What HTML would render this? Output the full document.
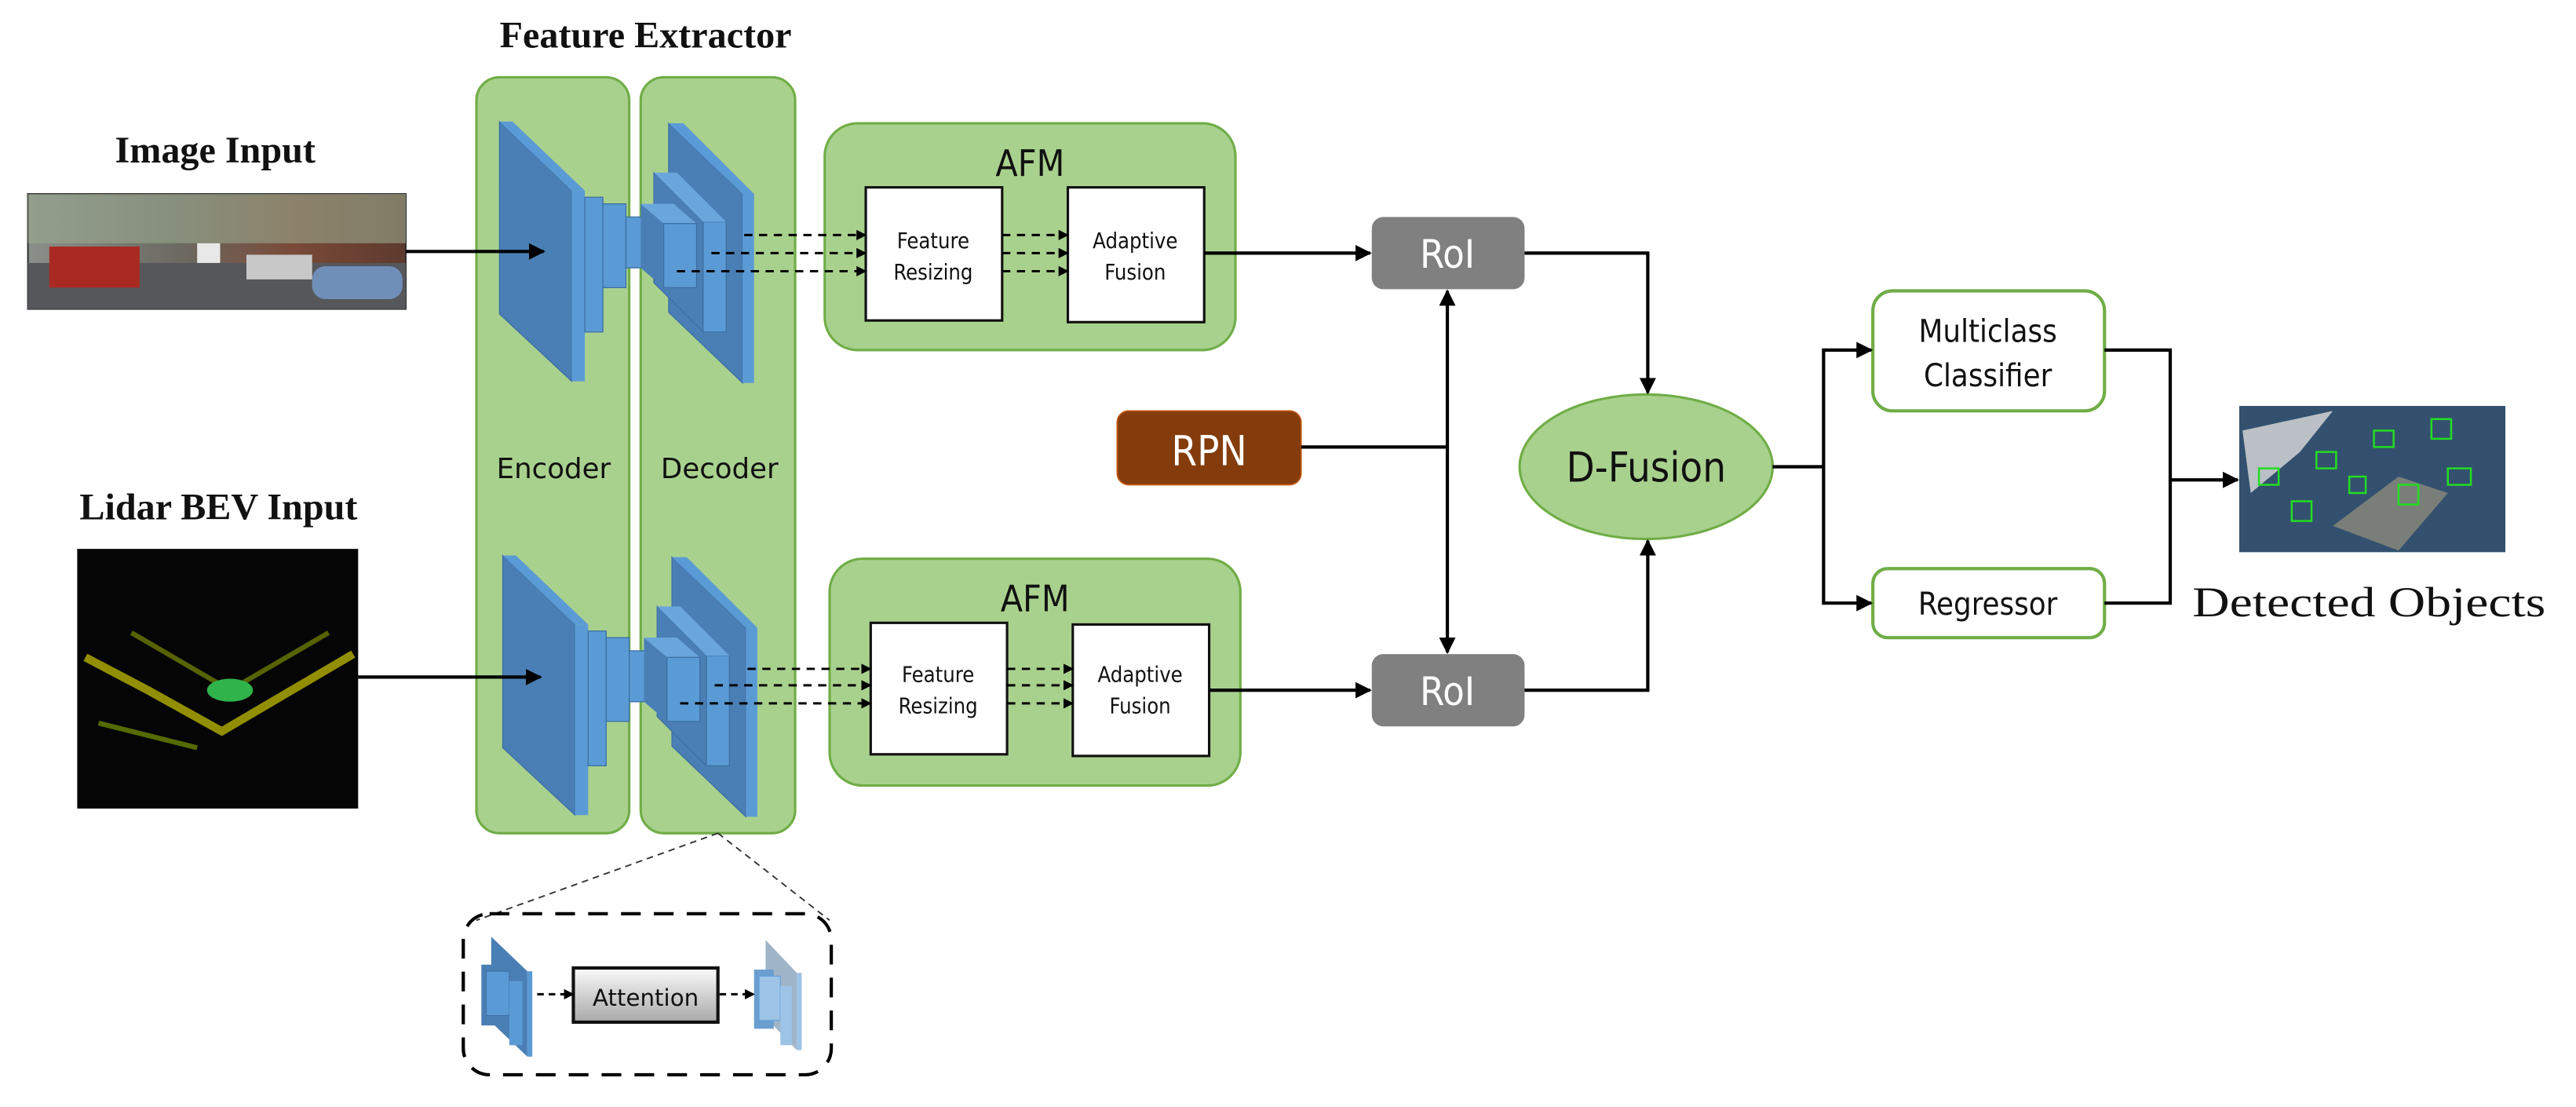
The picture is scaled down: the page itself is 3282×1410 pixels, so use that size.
<!DOCTYPE html>
<html><head><meta charset="utf-8"><style>html,body{margin:0;padding:0;background:#fff}svg{display:block}</style></head><body>
<svg xmlns="http://www.w3.org/2000/svg" width="3282" height="1410" viewBox="0 0 1568 673.6">
<defs>
<marker id="ah" viewBox="0 0 10 10" refX="9" refY="5" markerWidth="4.5" markerHeight="4.5" orient="auto-start-reverse"><path d="M0,0 L10,5 L0,10 z" fill="#000"/></marker>
<marker id="as" viewBox="0 0 10 10" refX="9" refY="5" markerWidth="5" markerHeight="5" orient="auto-start-reverse"><path d="M0,0 L10,5 L0,10 z" fill="#000"/></marker>
<linearGradient id="attg" x1="0" y1="0" x2="0" y2="1"><stop offset="0" stop-color="#fafafa"/><stop offset="1" stop-color="#a8a8a8"/></linearGradient>
<linearGradient id="street" x1="0" y1="0" x2="1" y2="0"><stop offset="0" stop-color="#8a8f8a"/><stop offset="0.4" stop-color="#6b6a62"/><stop offset="0.7" stop-color="#7a4a38"/><stop offset="1" stop-color="#5e3a2e"/></linearGradient>
<g id="encTop">
 <polygon points="304,74 348,116 348,232 304,191" fill="#4a7fb5" stroke="#3b6ea3" stroke-width="0.6"/>
 <polygon points="348,116 356,116 356,232 348,232" fill="#5b9bd5"/>
 <polygon points="304,74 312,74 356,116 348,116" fill="#5b9bd5"/>
 <polygon points="356,120 367,120 367,202 356,202" fill="#5b9bd5" stroke="#3b6ea3" stroke-width="0.6"/>
 <polygon points="367,124 381,124 381,175 367,175" fill="#5b9bd5" stroke="#3b6ea3" stroke-width="0.6"/>
 <rect x="381" y="132" width="10" height="31" fill="#5b9bd5" stroke="#3b6ea3" stroke-width="0.6"/>
 <polygon points="407,75 452,118 452,233 407,190" fill="#4a7fb5" stroke="#3b6ea3" stroke-width="0.6"/>
 <polygon points="452,118 459,118 459,233 452,233" fill="#5b9bd5"/>
 <polygon points="407,75 416,75 459,118 452,118" fill="#5b9bd5"/>
 <polygon points="398,105 428,135 428,202 398,172" fill="#4a7fb5" stroke="#3b6ea3" stroke-width="0.6"/>
 <polygon points="428,135 442,135 442,202 428,202" fill="#5b9bd5" stroke="#3b6ea3" stroke-width="0.6"/>
 <polygon points="398,105 412,105 442,135 428,135" fill="#6aa6dc"/>
 <polygon points="390,124 404,136 404,175 390,163" fill="#4a7fb5"/>
 <polygon points="390,124 410,124 424,136 404,136" fill="#6aa6dc"/>
 <rect x="404" y="136" width="20" height="39" fill="#5b9bd5" stroke="#3b6ea3" stroke-width="0.6"/>
</g>
</defs>

<g font-family="Liberation Serif, serif" font-weight="bold" fill="#111">
<text x="393" y="29" font-size="23" text-anchor="middle">Feature Extractor</text>
<text x="131" y="99" font-size="23" text-anchor="middle">Image Input</text>
<text x="133" y="316" font-size="23" text-anchor="middle">Lidar BEV Input</text>
</g>
<text x="1442" y="375" font-size="26" font-family="Liberation Serif, serif" text-anchor="middle" fill="#111" textLength="215" lengthAdjust="spacingAndGlyphs">Detected Objects</text>

<rect x="17" y="118" width="230" height="70" fill="url(#street)" stroke="#333" stroke-width="1"/>
<rect x="17" y="118" width="230" height="30" fill="#9aa88e" opacity="0.6"/>
<rect x="17" y="160" width="230" height="28" fill="#55575a"/>
<rect x="30" y="150" width="55" height="25" fill="#a92a22"/>
<rect x="120" y="148" width="14" height="12" fill="#e8e8e8"/>
<rect x="190" y="162" width="55" height="20" rx="8" fill="#6f8fb8"/>
<rect x="150" y="155" width="40" height="15" fill="#c8c8c8"/>

<rect x="47" y="334" width="171" height="158" fill="#050505"/>
<path d="M52,400 L90,420 L135,445 L215,398" stroke="#b5b000" stroke-width="5" fill="none" opacity="0.8"/>
<path d="M80,385 L140,420 L200,385" stroke="#7a8a00" stroke-width="3" fill="none" opacity="0.7"/>
<ellipse cx="140" cy="420" rx="14" ry="7" fill="#2fb34a"/>
<path d="M60,440 L120,455" stroke="#556b00" stroke-width="3"/>

<rect x="1363" y="247" width="162" height="89" fill="#33506e"/>
<path d="M1365,262 L1420,250 L1400,275 L1370,300 z" fill="#dcdcdc" opacity="0.8"/>
<path d="M1420,320 L1460,290 L1490,300 L1460,335 z" fill="#8b8b7a" opacity="0.8"/>
<g stroke="#22dd22" stroke-width="1.2" fill="none">
<rect x="1375" y="285" width="12" height="10"/><rect x="1410" y="275" width="12" height="10"/>
<rect x="1445" y="262" width="12" height="10"/><rect x="1480" y="255" width="12" height="12"/>
<rect x="1490" y="285" width="14" height="10"/><rect x="1460" y="295" width="12" height="12"/>
<rect x="1430" y="290" width="10" height="10"/><rect x="1395" y="305" width="12" height="12"/>
</g>

<rect x="290" y="47" width="93" height="460" rx="14" fill="#a9d18e" stroke="#70ad47" stroke-width="1.5"/>
<rect x="390" y="47" width="94" height="460" rx="14" fill="#a9d18e" stroke="#70ad47" stroke-width="1.5"/>
<g font-family="DejaVu Sans, sans-serif" font-size="17" fill="#111" text-anchor="middle">
<text x="337" y="291">Encoder</text><text x="438" y="291">Decoder</text>
</g>
<use href="#encTop"/>
<use href="#encTop" transform="translate(2,264)"/>

<line x1="247" y1="153" x2="331" y2="153" stroke="#000" stroke-width="2" marker-end="url(#as)"/>
<line x1="218" y1="412" x2="329" y2="412" stroke="#000" stroke-width="2" marker-end="url(#as)"/>

<g font-family="DejaVu Sans Condensed, DejaVu Sans, sans-serif" fill="#111" text-anchor="middle">
<rect x="502" y="75" width="250" height="138" rx="20" fill="#a9d18e" stroke="#70ad47" stroke-width="1.5"/>
<text x="627" y="107" font-size="22">AFM</text>
<rect x="527" y="114" width="83" height="81" fill="#fff" stroke="#111" stroke-width="1.5"/>
<rect x="650" y="114" width="83" height="82" fill="#fff" stroke="#111" stroke-width="1.5"/>
<text x="568" y="151" font-size="13">Feature</text><text x="568" y="170" font-size="13">Resizing</text>
<text x="691" y="151" font-size="13">Adaptive</text><text x="691" y="170" font-size="13">Fusion</text>
<rect x="505" y="340" width="250" height="138" rx="20" fill="#a9d18e" stroke="#70ad47" stroke-width="1.5"/>
<text x="630" y="372" font-size="22">AFM</text>
<rect x="530" y="379" width="83" height="80" fill="#fff" stroke="#111" stroke-width="1.5"/>
<rect x="653" y="380" width="83" height="80" fill="#fff" stroke="#111" stroke-width="1.5"/>
<text x="571" y="415" font-size="13">Feature</text><text x="571" y="434" font-size="13">Resizing</text>
<text x="694" y="415" font-size="13">Adaptive</text><text x="694" y="434" font-size="13">Fusion</text>
</g>

<g stroke="#000" stroke-width="1.4" stroke-dasharray="5,4" marker-end="url(#ah)">
<line x1="453" y1="143" x2="527" y2="143"/><line x1="433" y1="154" x2="527" y2="154"/><line x1="412" y1="165" x2="527" y2="165"/>
<line x1="610" y1="143" x2="650" y2="143"/><line x1="610" y1="154" x2="650" y2="154"/><line x1="610" y1="165" x2="650" y2="165"/>
<line x1="455" y1="407" x2="530" y2="407"/><line x1="435" y1="417" x2="530" y2="417"/><line x1="414" y1="428" x2="530" y2="428"/>
<line x1="613" y1="407" x2="653" y2="407"/><line x1="613" y1="417" x2="653" y2="417"/><line x1="613" y1="428" x2="653" y2="428"/>
</g>

<g font-family="DejaVu Sans Condensed, DejaVu Sans, sans-serif" text-anchor="middle">
<rect x="835" y="132" width="93" height="44" rx="7" fill="#808080"/>
<text x="881" y="163" font-size="24" fill="#fff">RoI</text>
<rect x="835" y="398" width="93" height="44" rx="7" fill="#808080"/>
<text x="881" y="429" font-size="24" fill="#fff">RoI</text>
<rect x="680" y="250" width="112" height="45" rx="7" fill="#843c0c" stroke="#c55a11" stroke-width="0.8"/>
<text x="736" y="283" font-size="25" fill="#fff">RPN</text>
<ellipse cx="1002" cy="284" rx="77" ry="44" fill="#a9d18e" stroke="#70ad47" stroke-width="1.5"/>
<text x="1002" y="293" font-size="25" fill="#111">D-Fusion</text>
<rect x="1140" y="177" width="141" height="73" rx="12" fill="#fff" stroke="#70ad47" stroke-width="2"/>
<text x="1210" y="208" font-size="19" fill="#111">Multiclass</text>
<text x="1210" y="235" font-size="19" fill="#111">Classifier</text>
<rect x="1140" y="346" width="141" height="42" rx="9" fill="#fff" stroke="#70ad47" stroke-width="2"/>
<text x="1210" y="374" font-size="19" fill="#111">Regressor</text>
</g>

<g stroke="#000" stroke-width="2" fill="none">
<line x1="733" y1="154" x2="834" y2="154" marker-end="url(#as)"/>
<line x1="736" y1="420" x2="834" y2="420" marker-end="url(#as)"/>
<line x1="881" y1="177" x2="881" y2="397" marker-start="url(#as)" marker-end="url(#as)"/>
<line x1="792" y1="272" x2="881" y2="272"/>
<polyline points="928,154 1003,154 1003,239" marker-end="url(#as)"/>
<polyline points="928,420 1003,420 1003,329" marker-end="url(#as)"/>
<line x1="1079" y1="284" x2="1110" y2="284"/>
<polyline points="1139,213 1110,213 1110,367 1139,367" marker-start="url(#as)" marker-end="url(#as)"/>
<polyline points="1281,213 1321,213 1321,367 1281,367"/>
<line x1="1321" y1="292" x2="1362" y2="292" marker-end="url(#as)"/>
</g>

<g stroke="#333" stroke-width="0.9" stroke-dasharray="4,3">
<line x1="437" y1="507" x2="290" y2="560"/><line x1="437" y1="507" x2="505" y2="560"/>
</g>
<rect x="282" y="556" width="224" height="98" rx="16" fill="none" stroke="#000" stroke-width="2" stroke-dasharray="12,8"/>
<polygon points="299,570 321,591 321,643 299,622" fill="#4a7fb5"/>
<polygon points="321,591 324,591 324,643 321,643" fill="#5b9bd5"/>
<rect x="293" y="587" width="13" height="37" fill="#4a7fb5"/>
<rect x="296" y="591" width="14" height="27" fill="#5b9bd5" stroke="#3b6ea3" stroke-width="0.5"/>
<rect x="310" y="597" width="8" height="39" fill="#5b9bd5"/>
<polygon points="466,572 485,592 485,639 466,619" fill="#a0b4c8"/>
<polygon points="485,592 488,592 488,639 485,639" fill="#9dc3e6"/>
<rect x="459" y="590" width="12" height="36" fill="#6a9fd0"/>
<rect x="462" y="594" width="13" height="27" fill="#9dc3e6" stroke="#5b9bd5" stroke-width="0.5"/>
<rect x="475" y="600" width="7" height="36" fill="#9dc3e6"/>
<rect x="349" y="589" width="88" height="33" fill="url(#attg)" stroke="#111" stroke-width="2"/>
<text x="393" y="612" font-family="DejaVu Sans, sans-serif" font-size="14" text-anchor="middle" fill="#111">Attention</text>
<g stroke="#000" stroke-width="1.4" stroke-dasharray="4,3" marker-end="url(#ah)">
<line x1="327" y1="605" x2="349" y2="605"/><line x1="438" y1="605" x2="459" y2="605"/>
</g>
</svg>
</body></html>
